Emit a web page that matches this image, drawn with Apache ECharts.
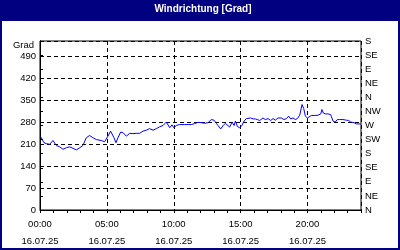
<!DOCTYPE html>
<html><head><meta charset="utf-8">
<script src="https://cdn.jsdelivr.net/npm/echarts@6/dist/echarts.min.js"></script>
<style>html,body{margin:0;padding:0;background:#fff}#c{width:400px;height:250px}</style>
</head><body><div id="c"></div>
<script>
const title = 'Windrichtung [Grad]';
const yName = 'Grad';
const dateLabel = '16.07.25';
const hours = [0.05,0.3,0.47,0.72,0.97,1.22,1.47,1.72,1.97,2.22,2.47,2.72,2.97,3.21,3.46,3.71,3.96,4.21,4.59,4.83,5.08,5.28,5.53,5.68,5.83,6.03,6.21,6.46,6.7,6.95,7.2,7.45,7.7,7.95,8.2,8.45,8.7,8.95,9.2,9.44,9.57,9.7,9.87,10.0,10.19,10.44,10.57,10.82,11.07,11.31,11.56,11.81,12.06,12.31,12.56,12.81,13.01,13.18,13.31,13.51,13.68,13.86,14.0,14.18,14.36,14.51,14.61,14.76,14.93,15.1,15.25,15.43,15.55,15.75,15.93,16.1,16.25,16.43,16.67,16.85,17.05,17.25,17.42,17.6,17.79,18.04,18.24,18.42,18.59,18.74,18.92,19.09,19.24,19.42,19.59,19.72,19.84,19.99,20.09,20.29,20.54,20.79,20.99,21.08,21.18,21.33,21.53,21.73,21.91,22.08,22.23,22.41,22.65,22.9,23.08,23.23,23.33,23.48,23.65,23.78,23.98];
const direction = [234,215,212,210,222,206,202,194,199,202,197,192,199,206,231,238,231,225,222,218,236,252,231,215,231,249,247,236,245,244,245,245,252,255,260,255,260,266,270,281,279,263,272,263,270,273,268,273,273,273,276,280,279,277,279,289,287,277,270,259,269,277,274,265,281,270,284,267,263,270,284,292,289,294,291,291,289,286,294,289,292,286,292,287,294,294,289,292,300,291,294,289,292,303,337,324,300,294,300,302,302,303,307,321,310,307,307,305,284,281,289,289,289,287,286,281,284,279,275,276,275];
const compass = ['N','NE','E','SE','S','SW','W','NW','N','NE','E','SE','S'];

const FONT = 'Liberation Sans';
const chart = echarts.init(document.getElementById('c'), null, {renderer:'canvas'});
const pad = n => (n<10?'0':'')+n;
chart.setOption({
  animation:false,
  backgroundColor:'#fff',
  grid:{left:40,right:39,top:41,bottom:39,show:true,borderColor:'#000',borderWidth:1,backgroundColor:'transparent'},
  xAxis:[{
    type:'value',min:0,max:24,interval:5,
    axisLine:{show:false},axisTick:{show:false},
    splitLine:{show:true,lineStyle:{color:'#000',type:[4,3],width:1}},
    axisLabel:{showMaxLabel:false,margin:6,color:'#000',fontFamily:FONT,fontSize:9.5,lineHeight:17,
      formatter:v=>pad(v)+':00\n'+dateLabel}
  },{
    type:'value',min:0,max:24,interval:1,position:'bottom',
    axisLine:{show:true,lineStyle:{color:'#000'}},
    axisTick:{show:true,length:3,lineStyle:{color:'#000'}},
    axisLabel:{show:false},splitLine:{show:false}
  }],
  yAxis:[{
    type:'value',min:0,max:540,interval:70,
    name:yName,nameLocation:'end',nameGap:-4,
    nameTextStyle:{align:'right',verticalAlign:'middle',padding:[0,6,0,0],color:'#000',fontFamily:FONT,fontSize:9.5},
    axisLine:{show:true,lineStyle:{color:'#000'}},axisTick:{show:false},
    splitLine:{show:true,lineStyle:{color:'#000',type:[4,3],width:1}},
    axisLabel:{showMaxLabel:false,margin:4,color:'#000',fontFamily:FONT,fontSize:9.5}
  },{
    type:'value',min:0,max:540,interval:45,position:'right',
    axisLine:{show:true,lineStyle:{color:'#000'}},
    axisTick:{show:true,length:3,lineStyle:{color:'#000'}},
    splitLine:{show:false},
    axisLabel:{margin:4,color:'#000',fontFamily:FONT,fontSize:9.5,formatter:v=>compass[Math.round(v/45)]}
  }],
  graphic:[
    {type:'rect',shape:{x:0,y:0,width:400,height:21},style:{fill:'#000080'},z:100},
    {type:'text',x:203,y:9,style:{text:title,fill:'#fff',font:'bold 10px '+FONT,align:'center',verticalAlign:'middle'},z:101},
    {type:'rect',shape:{x:1,y:1,width:398,height:248},style:{fill:null,stroke:'#000080',lineWidth:2},z:100}
  ],
  series:[{
    type:'line',xAxisIndex:0,yAxisIndex:0,
    data:hours.map((h,i)=>[h,direction[i]]),
    showSymbol:false,symbol:'none',
    lineStyle:{color:'#0000ff',width:1},z:5
  }]
});
</script></body></html>
